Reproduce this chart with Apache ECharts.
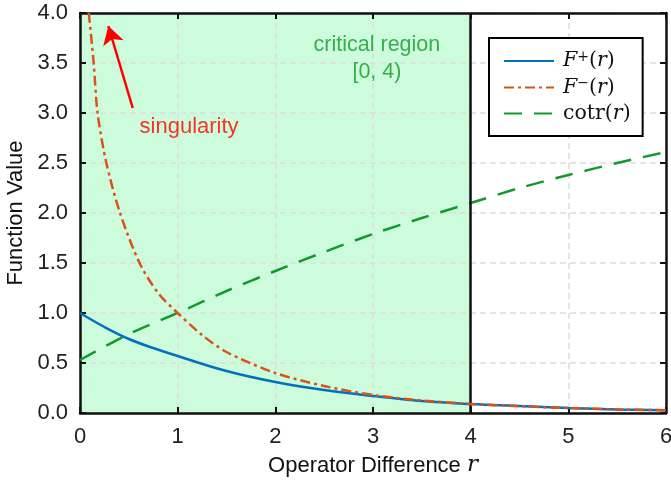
<!DOCTYPE html>
<html>
<head>
<meta charset="utf-8">
<script src="https://cdn.jsdelivr.net/npm/echarts@6/dist/echarts.min.js"></script>
<style>
  html, body { margin: 0; padding: 0; background: #fff; }
  #chart { width: 671px; height: 485px; }
</style>
</head>
<body>
<div id="chart"></div>
<script>
// 横轴刻度
const xTicks = [0, 1, 2, 3, 4, 5, 6];

// F+(r) 读数
const rPlus = [0, 0.25, 0.5, 0.75, 1, 1.5, 2, 2.5, 3, 3.5, 4, 4.5, 5, 5.5, 6];
const fPlus = [1.0, 0.86, 0.74, 0.65, 0.57, 0.42, 0.31, 0.23, 0.17, 0.12, 0.09, 0.07, 0.05, 0.036, 0.027];

// F-(r) 读数（靠近 0 的地方加密）
const rMinus = [0.09, 0.14, 0.18, 0.27, 0.41, 0.61, 0.8, 1.0, 1.25, 1.5, 2, 2.5, 3, 3.5, 4, 4.5, 5, 5.5, 6];
const fMinus = [4.0, 3.5, 3.0, 2.5, 2.0, 1.5, 1.2, 1.0, 0.78, 0.61, 0.40, 0.27, 0.18, 0.125, 0.09, 0.068, 0.05, 0.036, 0.027];

// cotr(r) 读数
const rCotr = [0, 0.5, 1, 1.5, 2, 2.5, 3, 3.5, 4, 4.5, 5, 5.5, 6];
const fCotr = [0.53, 0.79, 1.0, 1.22, 1.42, 1.61, 1.79, 1.95, 2.10, 2.25, 2.38, 2.50, 2.61];

// 临界区域和标注
const criticalRange = [0, 4];
const arrowFrom = [0.54, 3.05];
const arrowTo = [0.29, 3.87];
const singularityPos = [0.61, 2.86];
const regionTextPos = [[3.04, 3.68], [3.04, 3.41]];

const chart = echarts.init(document.getElementById('chart'));

const zip = (xs, ys) => xs.map((x, i) => [x, ys[i]]);
const sans = 'Liberation Sans';
const serif = 'DejaVu Serif';

const gridLine = { show: true, lineStyle: { color: '#dcdcdc', type: [6, 4], width: 1.5 } };
const frame = { show: true, onZero: false, lineStyle: { color: '#111', width: 2.5 } };
const tick = { show: true, inside: true, length: 6, lineStyle: { color: '#111', width: 2 } };

const option = {
    backgroundColor: '#fff',
    animation: false,
    grid: { left: 80, right: 5, top: 13, bottom: 72, outerBoundsMode: 'none', containLabel: false },
    xAxis: [
        {
            type: 'value', min: 0, max: 6, interval: 1, position: 'bottom', z: 1.5,
            axisLine: frame, axisTick: tick, splitLine: gridLine,
            axisLabel: { fontFamily: sans, fontSize: 22, color: '#222', margin: 13 },
            name: 'Operator Difference {it|r}',
            nameLocation: 'middle', nameGap: 41,
            nameTextStyle: {
                fontFamily: sans, fontSize: 22, color: '#111',
                rich: { it: { fontFamily: serif, fontStyle: 'italic', fontSize: 23, color: '#111' } }
            }
        },
        {
            type: 'value', min: 0, max: 6, interval: 1, position: 'top', z: 1.5,
            axisLine: frame, axisTick: tick, splitLine: { show: false }, axisLabel: { show: false }
        }
    ],
    yAxis: [
        {
            type: 'value', min: 0, max: 4, interval: 0.5, position: 'left', z: 1.5,
            axisLine: frame, axisTick: tick, splitLine: gridLine,
            axisLabel: { fontFamily: sans, fontSize: 22, color: '#222', margin: 12,
                formatter: v => v.toFixed(1) },
            name: 'Function Value',
            nameLocation: 'middle', nameGap: 47,
            nameTextStyle: { fontFamily: sans, fontSize: 22, color: '#111' }
        },
        {
            type: 'value', min: 0, max: 4, interval: 0.5, position: 'right', z: 1.5,
            axisLine: frame, axisTick: tick, splitLine: { show: false }, axisLabel: { show: false }
        }
    ],
    legend: {
        orient: 'vertical',
        left: 489, top: 38,
        padding: [12, 12, 12, 14],
        backgroundColor: '#fff',
        borderColor: '#000', borderWidth: 2, borderRadius: 0,
        itemWidth: 50, itemHeight: 14, itemGap: 5,
        itemStyle: { opacity: 0 },
        data: ['F+', 'F-', 'cotr'],
        formatter: name => {
            if (name === 'F+') return '{it|F}{sup|+}{n|(}{it|r}{n|)}';
            if (name === 'F-') return '{it|F}{sup|−}{n|(}{it|r}{n|)}';
            return '{n|cotr(}{it|r}{n|)}';
        },
        textStyle: {
            color: '#111',
            padding: [0, 0, 0, 4],
            rich: {
                it: { fontFamily: serif, fontStyle: 'italic', fontSize: 20.5, color: '#111', lineHeight: 22 },
                n: { fontFamily: serif, fontSize: 20.5, color: '#111', lineHeight: 22 },
                sup: { fontFamily: serif, fontSize: 14, color: '#111', verticalAlign: 'top', lineHeight: 14 }
            }
        }
    },
    series: [
        {
            name: 'region', type: 'line', data: [], silent: true,
            markArea: {
                silent: true, z: 1,
                itemStyle: { color: '#cdfcdc' },
                data: [[{ coord: [criticalRange[0], 0] }, { coord: [criticalRange[1], 4] }]]
            },
            markLine: {
                silent: true, symbol: ['none', 'none'],
                label: { show: false },
                lineStyle: { color: '#111', width: 2.5, type: 'solid' },
                data: [{ xAxis: criticalRange[1] }]
            }
        },
        {
            name: 'F+', type: 'line', data: zip(rPlus, fPlus), smooth: 0.4,
            showSymbol: false, symbol: 'none', color: '#0072bd',
            lineStyle: { width: 2.5, color: '#0072bd' }, z: 5
        },
        {
            name: 'F-', type: 'line', data: zip(rMinus, fMinus), smooth: 0.3,
            showSymbol: false, symbol: 'none', color: '#d95319',
            lineStyle: { width: 2.5, color: '#d95319', type: [10, 4, 3, 4] }, z: 6
        },
        {
            name: 'cotr', type: 'line', data: zip(rCotr, fCotr), smooth: 0.3,
            showSymbol: false, symbol: 'none', color: '#119a2b',
            lineStyle: { width: 2.5, color: '#119a2b', type: [18, 12] }, z: 4
        },
        {
            name: 'notes', type: 'scatter', symbolSize: 0, silent: true, z: 8,
            data: [
                { value: singularityPos, label: { show: true, formatter: 'singularity', position: 'inside',
                    align: 'left', color: '#ff0000', fontFamily: sans, fontSize: 22 } },
                { value: regionTextPos[0], label: { show: true, formatter: 'critical region', position: 'inside',
                    color: '#119a2b', fontFamily: sans, fontSize: 21.5 } },
                { value: regionTextPos[1], label: { show: true, formatter: '[0, 4)', position: 'inside',
                    color: '#119a2b', fontFamily: sans, fontSize: 21.5 } }
            ],
            markLine: {
                silent: true,
                symbol: ['none', 'arrow'], symbolSize: [16, 18],
                label: { show: false },
                lineStyle: { color: '#ff0000', width: 2.5, type: 'solid' },
                data: [[{ coord: arrowFrom }, { coord: arrowTo }]]
            }
        }
    ]
};

chart.setOption(option);
</script>
</body>
</html>
